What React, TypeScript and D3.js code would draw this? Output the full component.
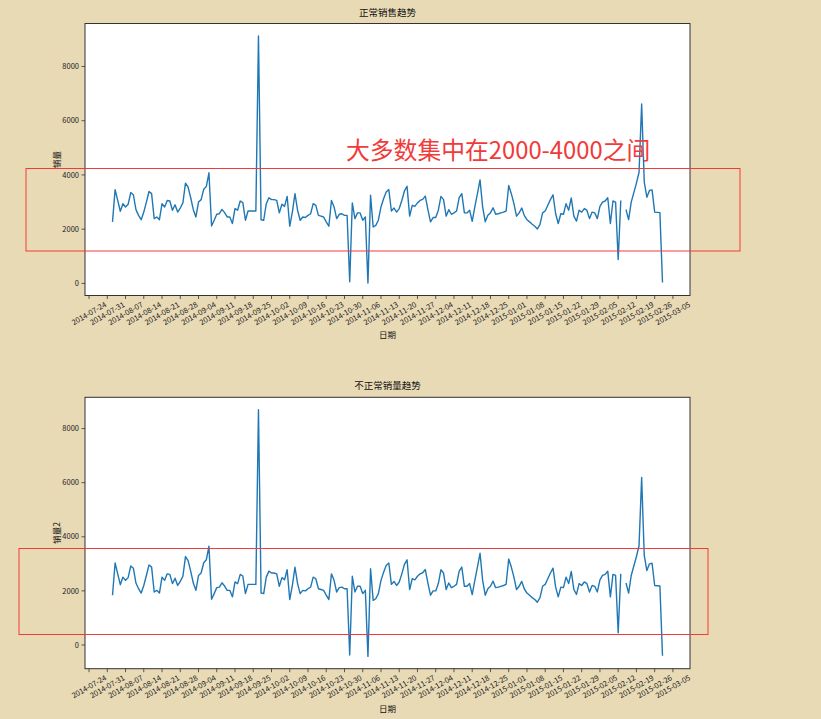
import React from 'react';
import * as d3 from 'd3';

const START_DATE = new Date(2014, 7, 2);
const FIRST_TICK = new Date(2014, 6, 24);
const LAST_TICK = new Date(2015, 2, 5);

const normalSales: (number | null)[] = [
  2270, 3460, 3060, 2660, 2940, 2820, 2920, 3350, 3270, 2720,
  2510, 2350, 2630, 3000, 3390, 3310, 2390, 2450, 2350, 2940,
  2820, 3060, 3040, 2700, 2900, 2630, 2780, 2970, 3700, 3550,
  3160, 2720, 2450, 3000, 3090, 3470, 3580, 4080, 2120, 2330,
  2550, 2570, 2730, 2610, 2450, 2450, 2210, 2760, 2700, 3040,
  2980, 2330, 2670, 2670, 2670, 2670, 9130, 2350, 2330, 2940,
  3160, 3090, 3090, 3060, 2600, 2920, 2840, 3210, 2110, 2630,
  3310, 2700, 2330, 2450, 2430, 2510, 2570, 2940, 2880, 2510,
  2480, 2450, 2270, 2110, 3060, 2820, 2390, 2550, 2570, 2510,
  2510, 60, 2970, 2390, 2600, 2600, 2330, 2450, 10, 3250,
  2080, 2140, 2330, 2820, 3120, 3370, 3460, 2670, 2780, 2630,
  2760, 3060, 3410, 3580, 2480, 2880, 2840, 2970, 3060, 3100,
  3220, 2720, 2270, 2430, 2430, 2700, 3210, 3090, 2480, 2720,
  2550, 2600, 2670, 3160, 3310, 2600, 2600, 2700, 2290, 2820,
  3310, 3820, 2820, 2270, 2510, 2600, 2790, 2550, 2570, 2600,
  2630, 2670, 3610, 3310, 2940, 2480, 2600, 2780, 2500, 2350,
  2270, 2180, 2110, 2010, 2180, 2600, 2670, 2880, 3090, 3270,
  2570, 2210, 2570, 2550, 2940, 2700, 3150, 2480, 2300, 2700,
  2630, 2760, 2700, 2390, 2630, 2600, 2390, 2840, 3000, 3040,
  3160, 2210, 3040, 3000, 880, 3060, null, 2720, 2350, 3000,
  3350, 3700, 4100, 6620, 3740, 3180, 3430, 3450, 2630, 2620,
  2610, 30,
];

const abnormalSales: (number | null)[] = [
  1840, 3030, 2630, 2230, 2510, 2390, 2490, 2920, 2840, 2290,
  2080, 1920, 2200, 2570, 2960, 2880, 1960, 2020, 1920, 2510,
  2390, 2630, 2610, 2270, 2470, 2200, 2350, 2540, 3270, 3120,
  2730, 2290, 2020, 2570, 2660, 3040, 3150, 3650, 1690, 1900,
  2120, 2140, 2300, 2180, 2020, 2020, 1780, 2330, 2270, 2610,
  2550, 1900, 2240, 2240, 2240, 2240, 8700, 1920, 1900, 2510,
  2730, 2660, 2660, 2630, 2170, 2490, 2410, 2780, 1680, 2200,
  2880, 2270, 1900, 2020, 2000, 2080, 2140, 2510, 2450, 2080,
  2050, 2020, 1840, 1680, 2630, 2390, 1960, 2120, 2140, 2080,
  2080, -370, 2540, 1960, 2170, 2170, 1900, 2020, -420, 2820,
  1650, 1710, 1900, 2390, 2690, 2940, 3030, 2240, 2350, 2200,
  2330, 2630, 2980, 3150, 2050, 2450, 2410, 2540, 2630, 2670,
  2790, 2290, 1840, 2000, 2000, 2270, 2780, 2660, 2050, 2290,
  2120, 2170, 2240, 2730, 2880, 2170, 2170, 2270, 1860, 2390,
  2880, 3390, 2390, 1840, 2080, 2170, 2360, 2120, 2140, 2170,
  2200, 2240, 3180, 2880, 2510, 2050, 2170, 2350, 2070, 1920,
  1840, 1750, 1680, 1580, 1750, 2170, 2240, 2450, 2660, 2840,
  2140, 1780, 2140, 2120, 2510, 2270, 2720, 2050, 1870, 2270,
  2200, 2330, 2270, 1960, 2200, 2170, 1960, 2410, 2570, 2610,
  2730, 1780, 2610, 2570, 450, 2630, null, 2290, 1920, 2570,
  2920, 3270, 3670, 6190, 3310, 2750, 3000, 3020, 2200, 2190,
  2180, -400,
];

const yTickValues = [0, 2000, 4000, 6000, 8000];

const FONT = '"Noto Sans CJK SC", "Noto Sans", sans-serif';
const BG = '#e9dab6';
const LINE = '#1f77b4';
const RED = '#f23a3a';
const AXIS = '#333';

type PanelProps = {
  values: (number | null)[];
  top: number;
  bottom: number;
  title: string;
  ylabel: string;
};

function Panel({ values, top, bottom, title, ylabel }: PanelProps) {
  const left = 85;
  const right = 690;
  const dates = values.map((_, i) => d3.timeDay.offset(START_DATE, i));
  const d0 = +dates[0];
  const d1 = +dates[dates.length - 1];
  const span = d1 - d0;
  const x = d3
    .scaleTime()
    .domain([new Date(d0 - span * 0.05), new Date(d1 + span * 0.05)])
    .range([left, right]);
  const nums = values.filter((v) => v != null) as number[];
  const [lo, hi] = d3.extent(nums) as [number, number];
  const ys = hi - lo;
  const y = d3
    .scaleLinear()
    .domain([lo - ys * 0.05, hi + ys * 0.05])
    .range([bottom, top]);
  const line = d3
    .line<number | null>()
    .defined((d) => d != null)
    .x((_, i) => x(dates[i]))
    .y((d) => y(d as number));
  const xticks = d3.timeThursday.range(FIRST_TICK, d3.timeDay.offset(LAST_TICK, 1));
  const fmt = d3.timeFormat('%Y-%m-%d');
  const midX = (left + right) / 2;
  return (
    <g>
      <rect x={left} y={top} width={right - left} height={bottom - top} fill="#ffffff" />
      <path d={line(values) || ''} fill="none" stroke={LINE} strokeWidth={1.4} strokeLinejoin="round" />
      <rect x={left} y={top} width={right - left} height={bottom - top} fill="none" stroke={AXIS} strokeWidth={1} />
      {yTickValues.map((v) => (
        <g key={v}>
          <line x1={left - 3.5} x2={left} y1={y(v)} y2={y(v)} stroke={AXIS} strokeWidth={0.8} />
          <text x={left - 6} y={y(v)} dy="0.35em" textAnchor="end" fontSize={7.5} fontFamily={FONT} fill="#222">
            {v}
          </text>
        </g>
      ))}
      {xticks.map((t) => {
        const tx = x(t);
        return (
          <g key={+t}>
            <line x1={tx} x2={tx} y1={bottom} y2={bottom + 3.5} stroke={AXIS} strokeWidth={0.8} />
            <text
              transform={`translate(${tx},${bottom + 18}) rotate(-30)`}
              textAnchor="middle"
              dy="0.35em"
              fontSize={7.5}
              fontFamily={FONT}
              fill="#222"
            >
              {fmt(t)}
            </text>
          </g>
        );
      })}
      <text x={midX} y={top - 8} textAnchor="middle" fontSize={9.5} fontFamily={FONT} fill="#111">
        {title}
      </text>
      <text x={midX} y={bottom + 40} dy="0.35em" textAnchor="middle" fontSize={8.5} fontFamily={FONT} fill="#111">
        日期
      </text>
      <text
        transform={`translate(57,${(top + bottom) / 2}) rotate(-90)`}
        textAnchor="middle"
        dy="0.35em"
        fontSize={8.5}
        fontFamily={FONT}
        fill="#111"
      >
        {ylabel}
      </text>
    </g>
  );
}

export default function App() {
  return (
    <svg
      width={821}
      height={719}
      style={{ position: 'absolute', left: 0, top: 0, display: 'block' }}
      xmlns="http://www.w3.org/2000/svg"
    >
      <rect x={0} y={0} width={821} height={719} fill={BG} />
      <Panel values={normalSales} top={23.5} bottom={295.5} title="正常销售趋势" ylabel="销量" />
      <Panel values={abnormalSales} top={397.3} bottom={668.7} title="不正常销量趋势" ylabel="销量2" />
      <rect x={26} y={168.5} width={714} height={82.5} fill="none" stroke={RED} strokeWidth={1} />
      <text x={346} y={159} fontSize={23.8} fontFamily={FONT} fill={RED}>
        大多数集中在2000-4000之间
      </text>
      <rect x={19} y={548.5} width={689} height={86} fill="none" stroke={RED} strokeWidth={1} />
    </svg>
  );
}
